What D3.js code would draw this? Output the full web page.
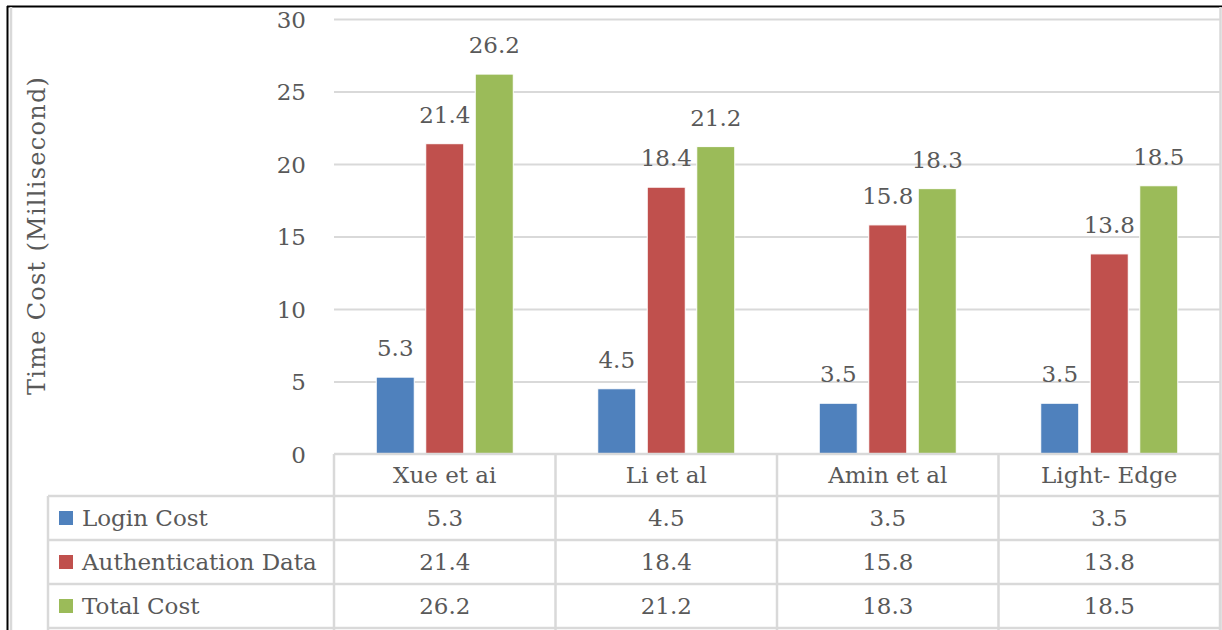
<!DOCTYPE html>
<html><head><meta charset="utf-8">
<script src="https://cdn.jsdelivr.net/npm/d3@7"></script>
<style>body{margin:0;background:#fff}svg{display:block}text{font-family:"DejaVu Serif",serif;fill:#595959}</style>
</head><body><svg id="c" width="1222" height="630"></svg>
<script>
const categories = ["Xue et ai", "Li et al", "Amin et al", "Light- Edge"];
const seriesNames = ["Login Cost", "Authentication Data", "Total Cost"];
const loginCost = [5.3, 4.5, 3.5, 3.5];
const authData = [21.4, 18.4, 15.8, 13.8];
const totalCost = [26.2, 21.2, 18.3, 18.5];
const yTicks = [0, 5, 10, 15, 20, 25, 30];
const colors = ["#4F81BD", "#C0504D", "#9BBB59"];
const yTitle = "Time Cost (Millisecond)";

const seriesValues = [loginCost, authData, totalCost];
const svg = d3.select("#c");
const fs = 23;
const grid = "#d9d9d9";

const x = d3.scaleBand().domain(categories).range([334, 1220]).padding(0);
const x1 = d3.scaleBand().domain(seriesNames).range([0, x.bandwidth()]).paddingInner(0.232).paddingOuter(0.853);
const y = d3.scaleLinear().domain([0, 30]).range([454, 19]);

// frame
svg.append("line").attr("x1", 7).attr("x2", 1222).attr("y1", 6.5).attr("y2", 6.5).attr("stroke", "#000").attr("stroke-width", 2);
svg.append("line").attr("x1", 7.5).attr("x2", 7.5).attr("y1", 6).attr("y2", 630).attr("stroke", "#000").attr("stroke-width", 2);
svg.append("line").attr("x1", 11).attr("x2", 11).attr("y1", 7).attr("y2", 630).attr("stroke", grid).attr("stroke-width", 2.5);
svg.append("line").attr("x1", 1220.5).attr("x2", 1220.5).attr("y1", 7).attr("y2", 630).attr("stroke", grid).attr("stroke-width", 2.5);

// gridlines
const yAxis = d3.axisLeft(y).tickValues(yTicks).tickSize(-(1220 - 334)).tickPadding(28);
const ga = svg.append("g").attr("transform", "translate(334,0)").call(yAxis);
ga.select(".domain").remove();
ga.selectAll(".tick line").attr("stroke", grid).attr("stroke-width", 2);
ga.selectAll(".tick text").attr("font-size", fs).attr("fill", "#595959").style("font-family", "DejaVu Serif").attr("dy", "0.36em");
ga.selectAll(".tick").filter(d => d === 0).select("line").remove();

// y title
svg.append("text").attr("transform", "translate(45,236) rotate(-90)").attr("text-anchor", "middle")
  .attr("font-size", 24).attr("textLength", 318).attr("lengthAdjust", "spacing").text(yTitle);

// bars
const groups = svg.append("g").selectAll("g").data(categories).join("g")
  .attr("transform", d => `translate(${x(d)},0)`);
groups.selectAll("rect").data((d, i) => seriesNames.map((s, k) => ({s, v: seriesValues[k][i], k})))
  .join("rect")
  .attr("x", d => x1(d.s)).attr("width", x1.bandwidth())
  .attr("y", d => y(d.v)).attr("height", d => y(0) - y(d.v))
  .attr("fill", d => colors[d.k]).attr("stroke", "#fff").attr("stroke-width", 1);
groups.selectAll("text").data((d, i) => seriesNames.map((s, k) => ({s, v: seriesValues[k][i], k})))
  .join("text")
  .attr("x", d => x1(d.s) + x1.bandwidth() / 2).attr("y", d => y(d.v) - 21)
  .attr("text-anchor", "middle").attr("font-size", fs).text(d => d.v.toFixed(1));

// data table
const rowY = [454, 496, 540, 584, 628];
const tl = svg.append("g").attr("stroke", grid).attr("stroke-width", 2.5);
tl.append("line").attr("x1", 334).attr("x2", 1220).attr("y1", rowY[0]).attr("y2", rowY[0]);
for (let r = 1; r < rowY.length; r++) {
  tl.append("line").attr("x1", 48).attr("x2", 1220).attr("y1", rowY[r]).attr("y2", rowY[r]);
}
tl.append("line").attr("x1", 48).attr("x2", 48).attr("y1", rowY[1]).attr("y2", 630);
categories.forEach(c => {
  tl.append("line").attr("x1", x(c)).attr("x2", x(c)).attr("y1", rowY[0]).attr("y2", 630);
});
tl.append("line").attr("x1", 1220).attr("x2", 1220).attr("y1", rowY[0]).attr("y2", 630);

svg.append("g").selectAll("text").data(categories).join("text")
  .attr("x", d => x(d) + x.bandwidth() / 2).attr("y", (rowY[0] + rowY[1]) / 2).attr("dy", "0.36em")
  .attr("text-anchor", "middle").attr("font-size", fs).text(d => d);

seriesNames.forEach((s, k) => {
  const cy = (rowY[k + 1] + rowY[k + 2]) / 2;
  svg.append("rect").attr("x", 59).attr("y", cy - 7).attr("width", 14).attr("height", 14).attr("fill", colors[k]);
  svg.append("text").attr("x", 82).attr("y", cy).attr("dy", "0.36em").attr("font-size", fs).text(s);
  categories.forEach((c, i) => {
    svg.append("text").attr("x", x(c) + x.bandwidth() / 2).attr("y", cy).attr("dy", "0.36em")
      .attr("text-anchor", "middle").attr("font-size", fs).text(seriesValues[k][i].toFixed(1));
  });
});
</script></body></html>
